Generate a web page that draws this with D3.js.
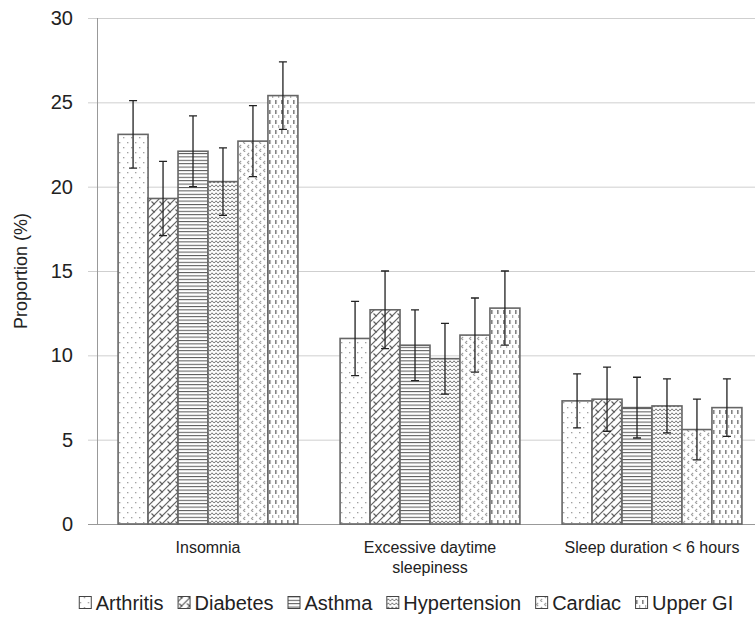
<!DOCTYPE html>
<html>
<head>
<meta charset="utf-8">
<script src="https://cdn.jsdelivr.net/npm/d3@7"></script>
<style>
  body { margin: 0; background: #fff; }
  svg { display: block; font-family: "Liberation Sans", Arial, sans-serif; }
</style>
</head>
<body>
<svg id="chart" width="755" height="618"></svg>
<script>
// data
const categories = ["Insomnia", "Excessive daytime sleepiness", "Sleep duration < 6 hours"];
const catLines = [["Insomnia"], ["Excessive daytime", "sleepiness"], ["Sleep duration < 6 hours"]];
const series = ["Arthritis", "Diabetes", "Asthma", "Hypertension", "Cardiac", "Upper GI"];
// proportion (%) per series, one value per category
const arthritis    = [23.1, 11.0, 7.3];
const diabetes     = [19.3, 12.7, 7.4];
const asthma       = [22.1, 10.6, 6.9];
const hypertension = [20.3,  9.8, 7.0];
const cardiac      = [22.7, 11.2, 5.6];
const upperGI      = [25.4, 12.8, 6.9];
// half width of the error bars
const errArthritis    = [2.0, 2.2, 1.6];
const errDiabetes     = [2.2, 2.3, 1.9];
const errAsthma       = [2.1, 2.1, 1.8];
const errHypertension = [2.0, 2.1, 1.6];
const errCardiac      = [2.1, 2.2, 1.8];
const errUpperGI      = [2.0, 2.2, 1.7];
const yTicks = [0, 5, 10, 15, 20, 25, 30];

const values = [arthritis, diabetes, asthma, hypertension, cardiac, upperGI];
const errors = [errArthritis, errDiabetes, errAsthma, errHypertension, errCardiac, errUpperGI];

const svg = d3.select("#chart");
const mLeft = 97, mRight = 763, mTop = 18, mBottom = 524;

const x0 = d3.scaleBand().domain(categories).range([mLeft, mRight])
    .paddingInner(0.19).paddingOuter(0.095);
const x1 = d3.scaleBand().domain(series).range([0, x0.bandwidth()]);
const y = d3.scaleLinear().domain([0, 30]).range([mBottom, mTop]);

// fill patterns
const defs = svg.append("defs");
function pat(id, w, h, draw) {
  const p = defs.append("pattern").attr("id", id).attr("patternUnits", "userSpaceOnUse")
      .attr("width", w).attr("height", h);
  p.append("rect").attr("width", w).attr("height", h).attr("fill", "#fff");
  draw(p);
}
pat("p0", 8, 10, p => {
  p.append("rect").attr("x", 1).attr("y", 2).attr("width", 1.3).attr("height", 1.3).attr("fill", "#999");
  p.append("rect").attr("x", 5).attr("y", 7).attr("width", 1.3).attr("height", 1.3).attr("fill", "#999");
});
pat("p1", 8, 8, p => {
  p.append("path").attr("d", "M-1,9 L9,-1 M-1,1 L1,-1 M7,9 L9,7").attr("stroke", "#555").attr("stroke-width", 1.1);
  p.append("path").attr("d", "M1.5,1.5 L4.5,4.5").attr("stroke", "#555").attr("stroke-width", 1.1);
});
pat("p2", 6, 3.4, p => {
  p.append("line").attr("x1", 0).attr("x2", 6).attr("y1", 0.5).attr("y2", 0.5)
      .attr("stroke", "#555").attr("stroke-width", 1);
});
pat("p3", 8, 4, p => {
  p.append("path").attr("d", "M0,3.2 L2,0.8 L4,3.2 L6,0.8 L8,3.2").attr("fill", "none")
      .attr("stroke", "#777").attr("stroke-width", 1);
});
pat("p4", 8, 8, p => {
  p.append("path").attr("d", "M3,1 L1.5,2.5 L3,4 M7,5 L5.5,6.5 L7,8").attr("fill", "none")
      .attr("stroke", "#999").attr("stroke-width", 1.1);
});
pat("p5", 6, 10, p => {
  p.append("rect").attr("x", 1).attr("y", 0).attr("width", 1.5).attr("height", 4).attr("fill", "#777");
  p.append("rect").attr("x", 4).attr("y", 5).attr("width", 1.2).attr("height", 3).attr("fill", "#aaa");
});

// gridlines and ticks
svg.append("g").selectAll("line").data(yTicks).join("line")
    .attr("x1", 88).attr("x2", 755)
    .attr("y1", d => y(d) + 0.5).attr("y2", d => y(d) + 0.5)
    .attr("stroke", d => d === 0 ? "#999" : "#cfcfcf").attr("stroke-width", 1);

svg.append("line").attr("x1", mLeft + 0.5).attr("x2", mLeft + 0.5)
    .attr("y1", y(30)).attr("y2", y(0)).attr("stroke", "#999");

svg.append("g").selectAll("text").data(yTicks).join("text")
    .attr("x", 73).attr("y", d => y(d) + 7)
    .attr("text-anchor", "end").attr("font-size", 20).attr("fill", "#222")
    .text(d => d);

svg.append("text").attr("transform", `translate(27,${(mTop + mBottom) / 2}) rotate(-90)`)
    .attr("text-anchor", "middle").attr("font-size", 18).attr("fill", "#222")
    .text("Proportion (%)");

// bars
const groups = svg.append("g").selectAll("g").data(categories).join("g")
    .attr("transform", d => `translate(${x0(d)},0)`);

groups.each(function(cat, ci) {
  const g = d3.select(this);
  series.forEach((s, si) => {
    const v = values[si][ci];
    g.append("rect")
        .attr("x", x1(s)).attr("y", y(v))
        .attr("width", x1.bandwidth()).attr("height", y(0) - y(v))
        .attr("fill", `url(#p${si})`)
        .attr("stroke", "#666").attr("stroke-width", 1.6);
  });
  series.forEach((s, si) => {
    const v = values[si][ci], e = errors[si][ci];
    const cx = x1(s) + x1.bandwidth() / 2;
    g.append("path")
        .attr("d", `M${cx},${y(v + e)} V${y(v - e)} M${cx - 4},${y(v + e)} H${cx + 4} M${cx - 4},${y(v - e)} H${cx + 4}`)
        .attr("stroke", "#222").attr("stroke-width", 1.3).attr("fill", "none");
  });
});

// category labels
svg.append("g").selectAll("text").data(categories).join("text")
    .attr("x", d => x0(d) + x0.bandwidth() / 2)
    .attr("y", 553)
    .attr("text-anchor", "middle").attr("font-size", 16).attr("fill", "#222")
    .each(function(d, i) {
      d3.select(this).selectAll("tspan").data(catLines[i]).join("tspan")
          .attr("x", x0(d) + x0.bandwidth() / 2)
          .attr("dy", (t, j) => j === 0 ? 0 : 20)
          .text(t => t);
    });

// legend
const leg = svg.append("g");
let lx = 0;
series.forEach((s, si) => {
  const item = leg.append("g").attr("transform", `translate(${lx},0)`);
  item.append("rect").attr("x", 0.5).attr("y", -13.5).attr("width", 12).attr("height", 12)
      .attr("fill", `url(#p${si})`).attr("stroke", "#444").attr("stroke-width", 1);
  const t = item.append("text").attr("x", 17).attr("y", 0)
      .attr("font-size", 20).attr("fill", "#222").text(s);
  lx += 17 + t.node().getComputedTextLength() + 14;
});
const legW = lx - 14;
leg.attr("transform", `translate(${406 - legW / 2},610)`);
</script>
</body>
</html>
